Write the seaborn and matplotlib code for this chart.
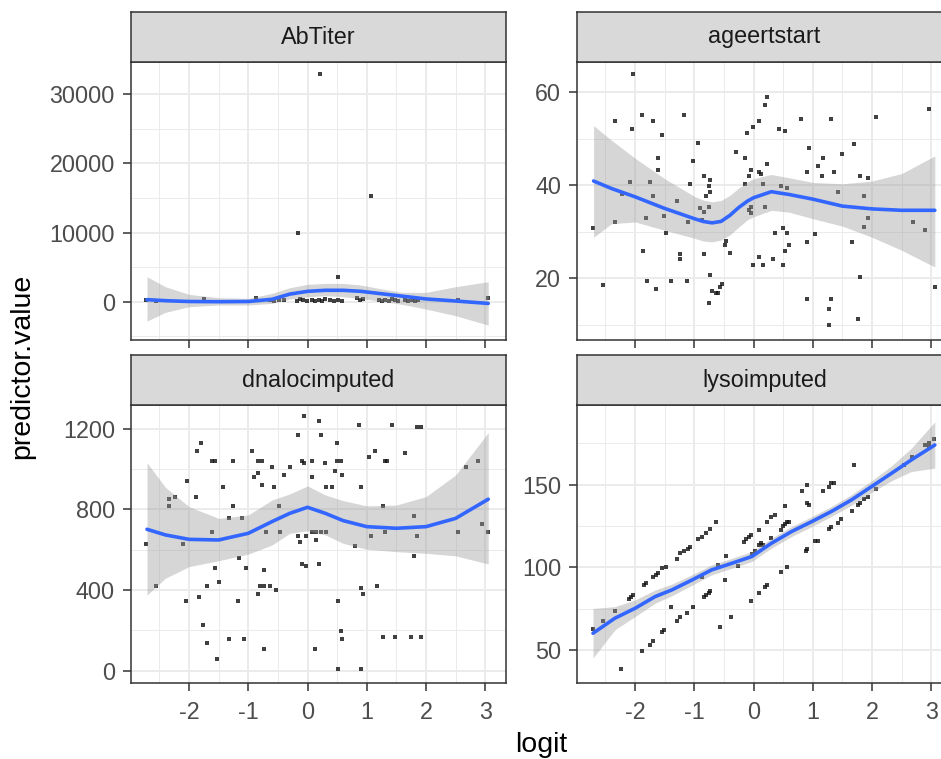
import numpy as np
import pandas as pd
import matplotlib
matplotlib.use("Agg")
import matplotlib.pyplot as plt
from matplotlib.ticker import MultipleLocator
import seaborn as sns

# ---------------- data ----------------
panels = ["AbTiter", "ageertstart", "dnalocimputed", "lysoimputed"]

abtiter_x = [0.21, 1.07, -0.16, 0.52, -2.72, -2.55, -1.75, -0.87, -0.63, -0.57, -0.49, -0.40,
             -0.18, -0.12, -0.07, -0.01, 0.07, 0.13, 0.19, 0.24, 0.30, 0.38, 0.44, 0.52, 0.58,
             0.83, 0.89, 0.94, 1.20, 1.25, 1.31, 1.37, 1.42, 1.48, 1.53, 1.65, 1.70, 1.76,
             1.81, 1.87, 2.54, 3.05]
abtiter_y = [32900, 15300, 10000, 3600, 300, 150, 400, 500, 200, 100, 300, 250,
             150, 400, 200, 100, 300, 150, 250, 50, 350, 200, 100, 300, 150,
             500, 200, 350, 300, 100, 250, 150, 400, 200, 100, 300, 150, 250,
             100, 200, 300, 600]

ageert_x = [-2.03, -2.34, -1.89, -1.69, -2.06, -1.55, -1.17, -0.93, -1.62, -1.03, -1.62, -2.09,
            -1.75, -1.07, -0.83, -0.73, -0.76, -0.73, -0.80, -2.22, -1.69, -1.30, -0.90, -0.83,
            -0.76, -1.51, -1.82, -1.10, -2.34, -2.71, -0.87, -1.47, -1.86, -1.24, -1.24, -0.83,
            -0.46, -0.49, -0.39, -1.79, -1.64, -1.40, -1.13, -2.54, -0.73, -0.53, -0.56, -0.70,
            -0.63, -0.60, -0.76, 0.22, 0.19, 0.09, -0.01, -0.11, -0.29, -0.15, 0.22, -0.04,
            0.09, 0.12, -0.08, -0.15, 0.16, 0.46, 0.56, -0.04, -0.08, -0.04, 0.19, 0.43,
            0.53, 0.80, 1.31, 2.07, 2.96, 0.94, 1.70, 1.49, 1.18, 1.08, 0.91, 1.15,
            1.35, 1.80, 1.93, 1.42, 1.87, 1.93, 1.87, 2.69, 2.89, 0.36, 0.49, 0.56,
            0.60, 0.53, 1.04, 0.91, 1.66, 0.09, -0.01, 0.16, 0.33, 0.49, 1.80, 3.06,
            0.91, 1.31, 1.28, 1.28, 1.76]
ageert_y = [63.9, 53.8, 55.1, 53.8, 52.1, 50.8, 55.1, 49.0, 45.9, 45.1, 43.3, 40.7,
            40.7, 40.3, 42.0, 41.2, 39.9, 38.6, 37.7, 38.2, 37.7, 36.5, 35.0, 34.3,
            35.4, 33.3, 32.9, 32.0, 32.0, 30.7, 32.6, 29.8, 25.9, 25.1, 24.2, 25.1,
            28.1, 27.1, 25.4, 19.3, 17.6, 19.3, 19.3, 18.5, 20.7, 18.8, 18.1, 17.2,
            16.8, 16.8, 14.6, 59.0, 57.3, 53.8, 52.5, 51.2, 47.2, 45.9, 44.6, 43.3,
            42.9, 42.5, 42.0, 40.3, 40.3, 39.9, 39.5, 35.4, 34.7, 34.1, 35.4, 52.1,
            51.7, 54.3, 54.3, 54.7, 56.4, 48.1, 48.9, 46.8, 45.9, 44.2, 42.9, 42.0,
            42.9, 42.0, 41.6, 38.6, 37.7, 32.9, 31.1, 32.0, 30.3, 29.8, 30.7, 29.8,
            27.2, 25.9, 29.4, 27.7, 27.7, 24.6, 22.9, 22.9, 24.2, 22.9, 20.2, 18.1,
            15.5, 15.5, 13.3, 9.9, 11.2]

dnaloc_x = [-0.06, 0.19, 0.87, 1.42, 1.85, 1.92, -0.16, 0.22, -1.79, -1.86, -0.94, 0.49,
            1.14, 1.65, 1.03, -1.62, -1.56, -1.25, -0.84, -0.77, -0.09, -0.06, 0.08, 0.49,
            0.56, 0.29, 1.31, 1.34, 2.88, 2.67, -0.60, -0.29, 0.46, -0.84, -0.90, -0.39,
            0.08, 0.59, -2.03, -0.77, -1.42, -0.56, 0.32, 0.42, 0.90, -2.24, -2.34, -1.89,
            -2.34, -1.25, -0.49, 1.28, -1.32, -1.11, 1.79, -1.62, -0.70, -0.46, 0.08, 0.15,
            0.22, 0.32, 1.31, 2.54, 3.04, 2.94, -2.72, -2.10, -0.16, -0.02, -0.12, 0.15,
            1.07, 1.85, 0.80, 1.79, -1.15, -1.04, -1.56, -0.74, -0.09, -0.02, 0.19, -1.49,
            -1.69, -0.84, -0.80, -0.74, -0.63, -0.53, -2.55, -2.06, -1.83, -1.18, 0.90, 0.93,
            1.17, 0.52, -1.76, -1.69, -1.52, -1.32, -1.08, -0.74, 0.12, 0.56, 0.59, 1.28,
            1.48, 1.75, 1.92, 0.52, 0.90]
dnaloc_y = [1260, 1240, 1220, 1220, 1210, 1210, 1170, 1170, 1131, 1091, 1091, 1131,
            1091, 1081, 1061, 1040, 1040, 1040, 1040, 1040, 1040, 1031, 1040, 1040,
            1040, 1031, 1040, 1040, 1040, 1010, 1010, 1010, 990, 980, 960, 970,
            960, 970, 940, 919, 909, 909, 909, 909, 909, 860, 850, 860,
            818, 818, 818, 818, 759, 759, 769, 688, 688, 688, 688, 688,
            688, 688, 688, 688, 688, 727, 628, 628, 668, 668, 638, 648,
            668, 668, 618, 569, 557, 507, 507, 497, 527, 517, 527, 438,
            418, 378, 418, 418, 418, 398, 418, 347, 367, 347, 408, 378,
            418, 347, 226, 137, 56, 157, 157, 107, 107, 197, 157, 167,
            167, 167, 167, 6, 6]

lyso_x = [-2.71, -2.54, -2.34, -2.10, -2.07, -2.03, -1.85, -1.82, -1.69, -1.65, -1.61, -1.55,
          -1.47, -1.30, -1.24, -1.17, -1.10, -1.07, -0.93, -0.87, -0.80, -0.73, -0.63,
          -0.16, -0.12, -0.08, -0.04, 0.09, 0.22, 0.29, 0.36, 0.53, 0.81, 0.91, 1.18,
          1.28, 1.31, 1.35, 1.70,
          -0.46, -0.60, -0.26, -0.03, 0.09, 0.12, 0.16, 0.29, 0.46, 0.49, 0.53, 0.56,
          0.60, 0.91, 0.94, -0.87, 0.03,
          -2.24, -1.89, -1.75, -1.69, -1.55, -1.51, -1.40, -1.30, -1.24, -1.13, -1.03, -0.83,
          -0.80, -0.76, -0.73, -0.56, -0.49, -0.38, -0.04, 0.09, 0.19, 0.22, 0.46, 0.56,
          0.88, 0.91, 1.04, 1.09, 1.28, 1.31, 1.42, 1.48, 1.66, 1.76, 1.80, 1.87,
          1.93, 2.07, 2.54, 2.67, 2.89, 2.96, 3.04, 2.96]
lyso_y = [62.5, 67.7, 73.8, 81.0, 82.0, 83.5, 89.5, 90.5, 94.4, 95.6, 96.8, 99.6,
          100.4, 105.2, 108.9, 110.1, 111.3, 112.5, 117.3, 118.5, 121.0, 123.4, 127.4,
          115.3, 116.9, 118.1, 119.8, 122.6, 127.4, 130.6, 131.5, 137.1, 146.0, 149.6, 146.0,
          148.4, 150.8, 151.2, 161.7,
          106.9, 101.6, 100.8, 108.1, 113.7, 114.5, 113.3, 117.7, 122.6, 125.0, 126.2, 127.4,
          127.4, 138.7, 137.5, 94.4, 110.1,
          38.3, 49.2, 52.8, 55.2, 60.9, 62.1, 76.2, 67.7, 70.2, 72.6, 76.2, 82.3,
          83.5, 84.7, 85.9, 64.1, 92.3, 70.2, 79.8, 84.7, 88.3, 89.5, 97.2, 100.0,
          109.7, 110.9, 115.7, 115.7, 123.0, 124.6, 126.6, 129.0, 133.9, 137.5, 138.7, 141.5,
          142.3, 147.6, 161.7, 166.5, 173.8, 175.0, 177.4, 172.6]

# loess smooth (fit and 95% band)
abtiter_sx = [-2.71, -2.4, -2.0, -1.5, -1.0, -0.6, -0.3, 0.0, 0.3, 0.6, 0.9, 1.2, 1.6, 2.0, 2.5, 3.05]
abtiter_fit = [300, 150, 30, 0, 30, 350, 1100, 1500, 1650, 1650, 1500, 1200, 800, 400, 100, -250]
abtiter_hi = [3620, 2170, 1060, 580, 480, 1200, 2030, 2510, 2650, 2650, 2410, 1930, 1350, 1350, 2170, 2890]
abtiter_lo = [-2800, -1540, -720, -480, -480, -240, 390, 720, 870, 720, 480, 100, -390, -1060, -2030, -3380]

ageert_sx = [-2.70, -2.4, -2.0, -1.5, -1.0, -0.85, -0.7, -0.55, -0.4, -0.25, -0.1, 0.0, 0.3, 0.6, 1.0, 1.5, 2.0, 2.5, 3.06]
ageert_fit = [40.9, 39.3, 37.5, 35.0, 32.8, 32.2, 31.9, 32.2, 33.5, 35.2, 36.6, 37.3, 38.6, 38.0, 37.0, 35.5, 34.9, 34.6, 34.6]
ageert_hi = [52.8, 49.7, 45.8, 41.4, 37.6, 36.8, 36.4, 36.7, 37.8, 39.4, 40.7, 41.4, 42.3, 41.6, 40.6, 40.3, 40.9, 42.5, 46.3]
ageert_lo = [28.8, 31.7, 32.1, 30.3, 28.6, 28.0, 27.8, 28.2, 29.3, 31.0, 32.6, 33.2, 34.6, 34.2, 32.8, 31.2, 28.8, 26.0, 22.4]

dnaloc_sx = [-2.71, -2.4, -2.0, -1.5, -1.0, -0.6, -0.3, 0.0, 0.3, 0.6, 1.0, 1.5, 2.0, 2.5, 3.05]
dnaloc_fit = [701, 673, 651, 648, 681, 739, 780, 810, 780, 744, 714, 706, 714, 755, 850]
dnaloc_hi = [1031, 909, 813, 755, 772, 846, 876, 916, 871, 843, 817, 821, 863, 970, 1180]
dnaloc_lo = [375, 458, 516, 545, 578, 623, 681, 694, 673, 631, 602, 590, 582, 569, 529]

lyso_sx = [-2.71, -2.34, -2.0, -1.66, -1.38, -1.04, -0.71, -0.37, -0.03, 0.30, 0.64, 0.98, 1.31, 1.65, 1.99, 2.33, 2.66, 3.06]
lyso_fit = [60.1, 69.2, 75.2, 82.3, 86.3, 92.3, 98.4, 102.4, 106.5, 114.5, 121.6, 127.6, 133.7, 140.7, 148.8, 156.9, 164.9, 174.0]
lyso_hi = [75.1, 76.2, 80.2, 86.3, 89.8, 95.5, 101.4, 105.4, 109.5, 117.5, 124.6, 130.6, 136.7, 143.9, 152.3, 161.4, 171.9, 188.0]
lyso_lo = [45.1, 62.2, 70.2, 78.3, 82.8, 89.1, 95.4, 99.4, 103.5, 111.5, 118.6, 124.6, 130.7, 137.5, 145.3, 152.4, 157.9, 160.0]

x_ticks = [-2, -1, 0, 1, 2, 3]
y_ticks = {"AbTiter": [0, 10000, 20000, 30000],
           "ageertstart": [20, 40, 60],
           "dnalocimputed": [0, 400, 800, 1200],
           "lysoimputed": [50, 100, 150]}
y_limits = {"AbTiter": (-5540, 34680), "ageertstart": (6.7, 66.5),
            "dnalocimputed": (-61, 1317), "lysoimputed": (30.0, 198.2)}
x_limits = (-2.98, 3.35)

points = {"AbTiter": (abtiter_x, abtiter_y), "ageertstart": (ageert_x, ageert_y),
          "dnalocimputed": (dnaloc_x, dnaloc_y), "lysoimputed": (lyso_x, lyso_y)}
smooths = {"AbTiter": (abtiter_sx, abtiter_fit, abtiter_lo, abtiter_hi),
           "ageertstart": (ageert_sx, ageert_fit, ageert_lo, ageert_hi),
           "dnalocimputed": (dnaloc_sx, dnaloc_fit, dnaloc_lo, dnaloc_hi),
           "lysoimputed": (lyso_sx, lyso_fit, lyso_lo, lyso_hi)}

# ---------------- styling ----------------
sns.set_theme(style="white")
plt.rcParams['font.family'] = ['Liberation Sans', 'DejaVu Sans']

W, H = 941, 759
fig = plt.figure(figsize=(W / 100, H / 100), dpi=100)
fig.patch.set_facecolor("white")

def add_px_axes(l, t, r, b):
    return fig.add_axes([l / W, 1 - b / H, (r - l) / W, (b - t) / H])

boxes = {"AbTiter": (131, 62, 506, 340), "ageertstart": (577, 62, 952, 340),
         "dnalocimputed": (131, 405, 506, 683), "lysoimputed": (577, 405, 952, 683)}
strip_h = 50
minor_y = {"AbTiter": 5000, "ageertstart": 10, "dnalocimputed": 200, "lysoimputed": 25}

border_col = "#333333"
tick_fs = 16.8
for name in panels:
    l, t, r, b = boxes[name]
    ax = add_px_axes(l, t, r, b)
    px, py = points[name]
    df = pd.DataFrame({"logit": px, "value": py})
    sx, fit, lo, hi = smooths[name]
    sdf = pd.DataFrame({"logit": sx, "fit": fit, "lo": lo, "hi": hi})

    sns.scatterplot(data=df, x="logit", y="value", ax=ax, color="#111111", s=11,
                    linewidth=0, marker="s", alpha=0.8, zorder=3)
    ax.fill_between(sdf["logit"], sdf["lo"], sdf["hi"], color="#999999", alpha=0.4,
                    linewidth=0, zorder=4)
    sns.lineplot(data=sdf, x="logit", y="fit", ax=ax, color="#3366FF", linewidth=2.6,
                 zorder=5, estimator=None, sort=True)

    ax.set_xlim(*x_limits)
    ax.set_ylim(*y_limits[name])
    ax.set_xticks(x_ticks)
    ax.set_yticks(y_ticks[name])
    ax.xaxis.set_minor_locator(MultipleLocator(0.5))
    ax.yaxis.set_minor_locator(MultipleLocator(minor_y[name]))
    ax.grid(True, which="major", color="#EBEBEB", linewidth=1.4, zorder=0)
    ax.grid(True, which="minor", color="#EBEBEB", linewidth=0.7, zorder=0)
    ax.set_axisbelow(True)
    ax.set_facecolor("white")
    for sp in ax.spines.values():
        sp.set_color(border_col)
        sp.set_linewidth(1.1)
    ax.tick_params(which="major", length=6, width=1.1, color=border_col,
                   labelsize=tick_fs, labelcolor="#4D4D4D",
                   bottom=True, left=True)
    ax.tick_params(axis="y", pad=5.5)
    ax.tick_params(axis="x", pad=7.0)
    ax.tick_params(which="minor", length=0)
    ax.set_xlabel("")
    ax.set_ylabel("")
    if t < 200:
        ax.tick_params(axis="x", labelbottom=False)
    else:
        ax.set_xticklabels([str(v) for v in x_ticks])
    ax.set_yticklabels([str(v) for v in y_ticks[name]])

    sax = add_px_axes(l, t - strip_h, r, t)
    sax.set_facecolor("#D9D9D9")
    sax.set_xticks([])
    sax.set_yticks([])
    for sp in sax.spines.values():
        sp.set_color(border_col)
        sp.set_linewidth(1.1)
    sax.text(0.5, 0.5, name, ha="center", va="center", fontsize=tick_fs,
             color="#1A1A1A", transform=sax.transAxes)

fig.text(541 / W, 1 - 745 / H, "logit", ha="center", va="center", fontsize=20.5, color="black")
fig.text(22 / W, 1 - 366 / H, "predictor.value", ha="center", va="center", fontsize=20.5,
         color="black", rotation=90)

fig.savefig("out.png", dpi=100)
